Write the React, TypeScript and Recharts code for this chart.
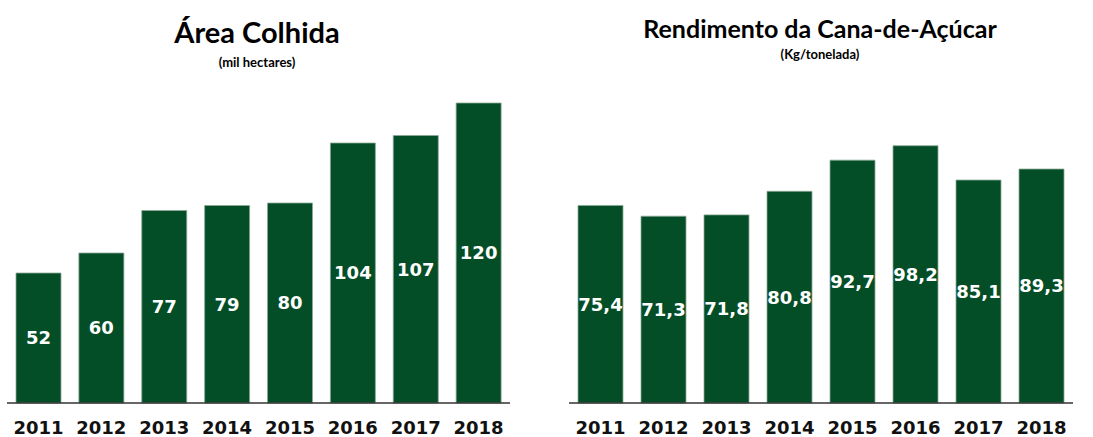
import React from 'react';
import { BarChart, Bar, XAxis, YAxis, LabelList } from 'recharts';

const years = ['2011', '2012', '2013', '2014', '2015', '2016', '2017', '2018'];
const areaValues = [52, 60, 77, 79, 80, 104, 107, 120];
const yieldValues = [75.4, 71.3, 71.8, 80.8, 92.7, 98.2, 85.1, 89.3];

const areaData = years.map((year, i) => ({ year, value: areaValues[i] }));
const yieldData = years.map((year, i) => ({ year, value: yieldValues[i] }));

const GREEN = '#034e27';
const numFont = '"DejaVu Sans", Verdana, sans-serif';
const titleFont = 'Lato, "Open Sans", sans-serif';

const YearTick = (props: any) => {
  const { x, y, payload } = props;
  return (
    <text x={x} y={y + 23} textAnchor="middle" fontFamily={numFont} fontWeight="bold" fontSize={18} fill="#111">
      {payload.value}
    </text>
  );
};

const fmtComma = (v: any) => String(v).replace('.', ',');

const App = () => {
  return (
    <div style={{ position: 'absolute', left: 0, top: 0, width: 1093, height: 437, background: '#fff' }}>
      <svg width={1093} height={90} style={{ position: 'absolute', left: 0, top: 0 }}>
        <text x={257} y={43} textAnchor="middle" fontFamily={titleFont} fontWeight="bold" fontSize={29} fill="#000">
          Área Colhida
        </text>
        <text x={257} y={67} textAnchor="middle" fontFamily={titleFont} fontWeight="bold" fontSize={13} fill="#000">
          (mil hectares)
        </text>
        <text x={820} y={38} textAnchor="middle" fontFamily={titleFont} fontWeight="bold" fontSize={25} fill="#000">
          Rendimento da Cana-de-Açúcar
        </text>
        <text x={820} y={59} textAnchor="middle" fontFamily={titleFont} fontWeight="bold" fontSize={13} fill="#000">
          (Kg/tonelada)
        </text>
      </svg>

      <div style={{ position: 'absolute', left: 0, top: 0 }}>
        <BarChart width={520} height={437} data={areaData} margin={{ top: 103, right: 10, left: 7, bottom: 0 }}>
          <XAxis
            dataKey="year"
            height={34}
            tickLine={false}
            axisLine={{ stroke: '#333', strokeWidth: 1.5 }}
            tick={<YearTick />}
            interval={0}
          />
          <YAxis hide domain={[0, 120]} />
          <Bar dataKey="value" fill={GREEN} stroke="#8aa895" strokeWidth={0.8} barSize={45} isAnimationActive={false}>
            <LabelList
              dataKey="value"
              position="center"
              fill="#fff"
              fontFamily={numFont}
              fontWeight="bold"
              fontSize={18}
            />
          </Bar>
        </BarChart>
      </div>

      <div style={{ position: 'absolute', left: 546, top: 0 }}>
        <BarChart width={547} height={437} data={yieldData} margin={{ top: 141, right: 20, left: 23, bottom: 0 }}>
          <XAxis
            dataKey="year"
            height={34}
            tickLine={false}
            axisLine={{ stroke: '#333', strokeWidth: 1.5 }}
            tick={<YearTick />}
            interval={0}
          />
          <YAxis hide domain={[0, 100]} />
          <Bar dataKey="value" fill={GREEN} stroke="#8aa895" strokeWidth={0.8} barSize={45} isAnimationActive={false}>
            <LabelList
              dataKey="value"
              position="center"
              formatter={fmtComma}
              fill="#fff"
              fontFamily={numFont}
              fontWeight="bold"
              fontSize={18}
            />
          </Bar>
        </BarChart>
      </div>
    </div>
  );
};

export default App;
